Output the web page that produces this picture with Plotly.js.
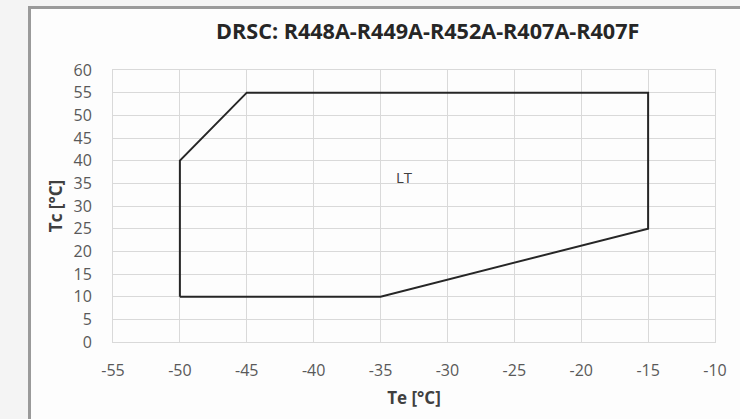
<!DOCTYPE html>
<html>
<head>
<meta charset="utf-8">
<script src="https://cdn.plot.ly/plotly-3.0.1.min.js"></script>
<style>
html,body{margin:0;padding:0;width:740px;height:419px;overflow:hidden;background:#f4f4f4;}
#panel{position:absolute;left:28px;top:6px;width:760px;height:440px;border:3px solid #9a9a9a;background:#fdfdfd;box-sizing:border-box;}
#chart{position:absolute;left:0;top:0;width:740px;height:419px;}
</style>
</head>
<body>
<div id="panel"></div>
<div id="chart"></div>
<script>
var titleText = "DRSC: R448A-R449A-R452A-R407A-R407F";
var xTitle = "Te [°C]";
var yTitle = "Tc [°C]";
var envelopeTe = [-50, -50, -45, -15, -15, -35, -50];
var envelopeTc = [10, 40, 55, 55, 25, 10, 10];
var xTickVals = [-55, -50, -45, -40, -35, -30, -25, -20, -15, -10];
var xTickText = ["-55", "-50", "-45", "-40", "-35", "-30", "-25", "-20", "-15", "-10"];
var zoneLabel = "LT";
var zoneLabelTe = -33.2;
var zoneLabelTc = 36.3;

var trace = {
  x: envelopeTe, y: envelopeTc, type: 'scatter', mode: 'lines',
  line: {color: '#262626', width: 2}, hoverinfo: 'skip', showlegend: false
};

var layout = {
  width: 740, height: 419,
  margin: {l: 113, r: 25, t: 70, b: 77},
  paper_bgcolor: 'rgba(0,0,0,0)', plot_bgcolor: 'rgba(0,0,0,0)',
  font: {family: '"Open Sans", sans-serif', color: '#595959', size: 16},
  title: {text: '<b>' + titleText + '</b>', x: 0.578, xanchor: 'center', y: 0.924, yanchor: 'middle',
          font: {family: '"Open Sans", sans-serif', size: 21.6, color: '#262626'}},
  xaxis: {range: [-55, -10], tickvals: xTickVals, ticktext: xTickText, showgrid: true, gridcolor: '#d9d9d9', gridwidth: 1,
          zeroline: false, showline: true, linecolor: '#d9d9d9', mirror: true, ticks: '',
          ticklabelstandoff: 14, tickfont: {size: 16, color: '#595959'},
          title: {text: '<b>' + xTitle + '</b>', standoff: 11, font: {size: 17, color: '#404040'}}},
  yaxis: {range: [0, 60], dtick: 5, showgrid: true, gridcolor: '#d9d9d9', gridwidth: 1,
          zeroline: false, showline: true, linecolor: '#d9d9d9', mirror: true, ticks: '',
          ticklabelstandoff: 17, tickfont: {size: 16, color: '#595959'},
          title: {text: '<b>' + yTitle + '</b>', standoff: 6, font: {size: 17, color: '#404040'}}},
  annotations: [{x: zoneLabelTe, y: zoneLabelTc, xref: 'x', yref: 'y', text: zoneLabel, showarrow: false,
                 font: {size: 15, color: '#404040'}}]
};

Plotly.newPlot('chart', [trace], layout, {displayModeBar: false, staticPlot: true});
</script>
</body>
</html>
